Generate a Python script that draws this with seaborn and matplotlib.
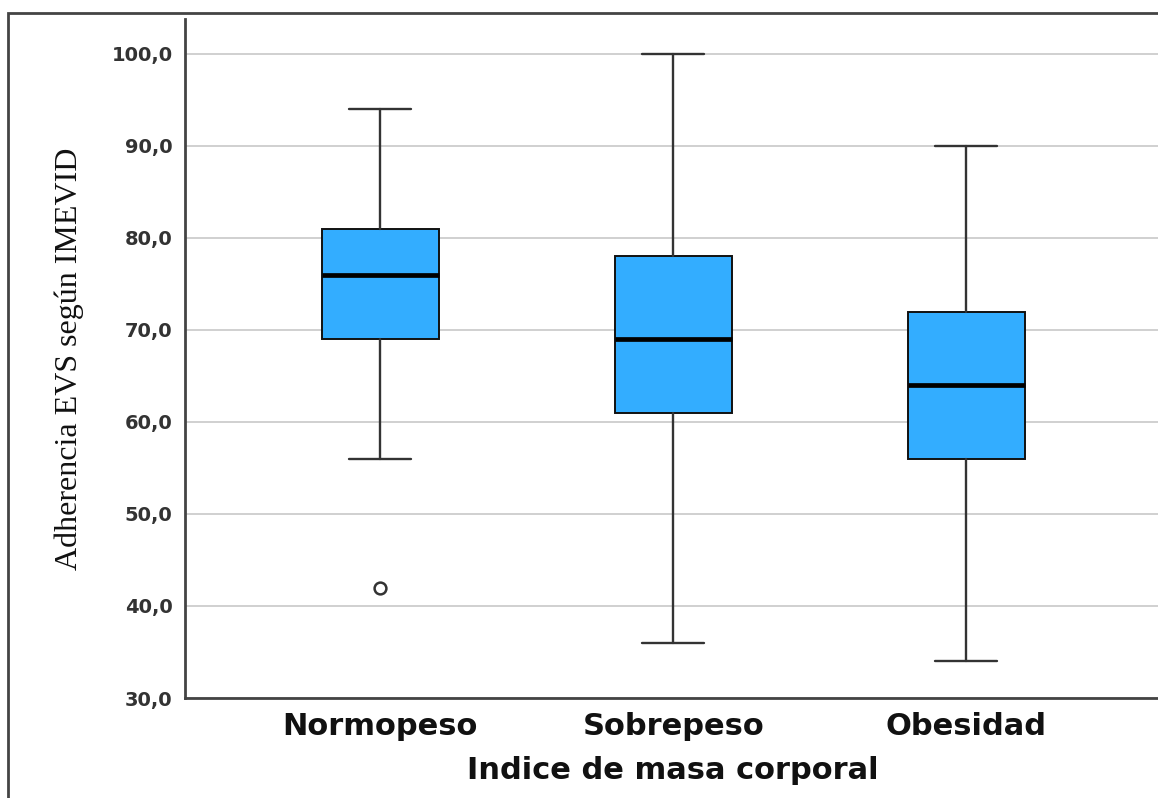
import matplotlib
matplotlib.use("Agg")
import matplotlib.pyplot as plt
from matplotlib.patches import Rectangle
import seaborn as sns

# Five-number summaries of IMEVID adherence by BMI group
categories = ["Normopeso", "Sobrepeso", "Obesidad"]
whisker_low = [56, 36, 34]
q1 = [69, 61, 56]
median = [76, 69, 64]
q3 = [81, 78, 72]
whisker_high = [94, 100, 90]
outliers = [[42], [], []]

y_ticks = [30, 40, 50, 60, 70, 80, 90, 100]
y_ticklabels = ["30,0", "40,0", "50,0", "60,0", "70,0", "80,0", "90,0", "100,0"]

sns.set_style("white")
plt.rcParams["font.family"] = ["DejaVu Sans"]

BOX_COLOR = "#33adff"
LINE_DARK = "#333333"

fig = plt.figure(figsize=(11.58, 7.98), dpi=100)
ax = fig.add_axes([0.1598, 0.1253, 0.843, 0.851])

stats = []
for i, name in enumerate(categories):
    stats.append({
        "label": name,
        "whislo": whisker_low[i],
        "q1": q1[i],
        "med": median[i],
        "q3": q3[i],
        "whishi": whisker_high[i],
        "fliers": outliers[i],
    })

ax.bxp(
    stats,
    positions=range(len(categories)),
    widths=0.40,
    capwidths=0.21,
    patch_artist=True,
    showfliers=True,
    boxprops=dict(facecolor=BOX_COLOR, edgecolor="#111111", linewidth=1.4),
    medianprops=dict(color="black", linewidth=3.4, solid_capstyle="butt"),
    whiskerprops=dict(color=LINE_DARK, linewidth=1.7),
    capprops=dict(color=LINE_DARK, linewidth=1.7),
    flierprops=dict(marker="o", markersize=8.5, markerfacecolor="none",
                    markeredgecolor=LINE_DARK, markeredgewidth=1.8),
    zorder=3,
)

ax.set_xlim(-0.666, 2.666)
ax.set_ylim(30, 103.8)
ax.set_yticks(y_ticks)
ax.set_yticklabels(y_ticklabels)
ax.set_xticks(range(len(categories)))
ax.set_xticklabels(categories)

ax.yaxis.grid(True, color="#c8c8c8", linewidth=1.2, zorder=0)
ax.xaxis.grid(False)
ax.set_axisbelow(True)

for side in ("top", "right"):
    ax.spines[side].set_visible(False)
for side in ("left", "bottom"):
    ax.spines[side].set_color("#444444")
    ax.spines[side].set_linewidth(2.0)

ax.tick_params(axis="y", length=0, pad=9, labelsize=14, labelcolor="#333333")
ax.tick_params(axis="x", length=0, pad=10, labelsize=22, labelcolor="#111111")
for lbl in ax.get_yticklabels():
    lbl.set_fontweight("bold")
for lbl in ax.get_xticklabels():
    lbl.set_fontweight("bold")

ax.set_xlabel("Indice de masa corporal", fontsize=22, fontweight="bold",
              color="#111111", labelpad=11)
ax.set_ylabel("Adherencia EVS según IMEVID", fontsize=23,
              family=["Liberation Serif", "DejaVu Serif"], color="#111111",
              labelpad=20)

# Outer frame around the chart
fig.add_artist(Rectangle((8 / 1158, -0.05), 1.2, (798 - 13) / 798 + 0.05,
                         transform=fig.transFigure, fill=False,
                         edgecolor="#444444", linewidth=2.0, clip_on=False))

fig.savefig("out.png", dpi=100)
